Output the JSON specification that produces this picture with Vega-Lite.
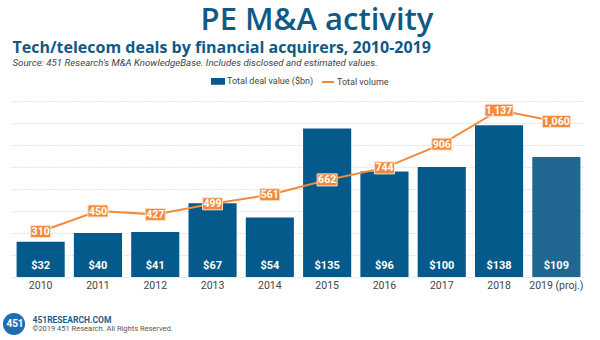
{
  "$schema": "https://vega.github.io/schema/vega-lite/v6.json",
  "width": 573,
  "height": 176,
  "autosize": {"type": "none"},
  "padding": {"left": 12, "top": 101, "right": 15, "bottom": 63},
  "background": "white",
  "config": {
    "view": {"stroke": null},
    "font": "Roboto",
    "axis": {"labelFont": "Roboto", "titleFont": "Roboto"},
    "legend": {"labelFont": "Roboto", "titleFont": "Roboto"}
  },
  "data": {
    "values": [
      {"year": "2010", "value": 32, "volume": 310},
      {"year": "2011", "value": 40, "volume": 450},
      {"year": "2012", "value": 41, "volume": 427},
      {"year": "2013", "value": 67, "volume": 499},
      {"year": "2014", "value": 54, "volume": 561},
      {"year": "2015", "value": 135, "volume": 662},
      {"year": "2016", "value": 96, "volume": 744},
      {"year": "2017", "value": 100, "volume": 906},
      {"year": "2018", "value": 138, "volume": 1137},
      {"year": "2019 (proj.)", "value": 109, "volume": 1060}
    ]
  },
  "layer": [
    {
      "layer": [
        {
          "mark": {"type": "bar"},
          "encoding": {
            "x": {
              "field": "year", "type": "nominal", "sort": null,
              "scale": {"paddingInner": 0.16, "paddingOuter": 0.08},
              "axis": {
                "orient": "bottom", "labelAngle": 0, "labelFontSize": 10.5, "labelColor": "#444444",
                "labelPadding": 3, "ticks": false, "domain": false, "grid": false,
                "title": "451RESEARCH.COM", "titleX": 20, "titleY": 45, "titleAlign": "left",
                "titleBaseline": "alphabetic", "titleFontSize": 8.5, "titleFontWeight": "bold", "titleColor": "#1c5d8e"
              }
            },
            "y": {
              "field": "value", "type": "quantitative", "scale": {"domain": [0, 160]},
              "axis": {
                "orient": "left", "labels": false, "labelOverlap": false, "labelBound": false, "ticks": false, "domain": false,
                "grid": true, "gridColor": "#c8c8c8", "gridDash": [1, 2], "gridWidth": 1,
                "values": [0, 20, 40, 60, 80, 100, 120, 140, 160], "tickCount": 20,
                "title": "Tech/telecom deals by financial acquirers, 2010-2019",
                "titleX": 0, "titleY": -49, "titleAngle": 0, "titleAlign": "left", "titleBaseline": "alphabetic",
                "titleFont": "Open Sans", "titleFontSize": 16, "titleFontWeight": "bold", "titleColor": "#0f5a85"
              }
            },
            "color": {
              "datum": "Total deal value ($bn)",
              "condition": {"test": "datum.year === '2019 (proj.)'", "value": "#1f6690"},
              "scale": {"domain": ["Total deal value ($bn)", "Total volume"], "range": ["#045a8a", "#f28a3e"]},
              "legend": {
                "orient": "none", "legendX": 199, "legendY": -27, "direction": "horizontal", "title": null,
                "labelFontSize": 9, "labelColor": "#444444", "symbolSize": 144, "labelOffset": 2, "columnPadding": 4,
                "encode": {
                  "symbols": {
                    "update": {
                      "shape": {"signal": "datum.value === 'Total volume' ? 'stroke' : 'M-1,-0.4H1V0.4H-1Z'"},
                      "fill": {"signal": "datum.value === 'Total volume' ? 'transparent' : '#045a8a'"},
                      "stroke": {"signal": "datum.value === 'Total volume' ? '#f28a3e' : 'transparent'"},
                      "strokeWidth": {"value": 2},
                      "opacity": {"value": 1}
                    }
                  }
                }
              }
            }
          }
        },
        {
          "mark": {"type": "text", "color": "white", "fontWeight": "bold", "fontSize": 11, "baseline": "alphabetic", "dy": -8},
          "encoding": {
            "x": {
              "field": "year", "type": "nominal", "sort": null,
              "axis": {
                "orient": "top", "labels": false, "ticks": false, "domain": false, "grid": false,
                "title": "©2019 451 Research. All Rights Reserved.", "titleX": 20, "titleY": 229, "titleAlign": "left",
                "titleBaseline": "alphabetic", "titleFontSize": 7.5, "titleFontWeight": "normal", "titleColor": "#555555"
              }
            },
            "y": {
              "datum": 0, "type": "quantitative",
              "axis": {
                "orient": "left", "labels": false, "labelOverlap": false, "labelBound": false, "ticks": false, "domain": false,
                "grid": true, "gridColor": "#c8c8c8", "gridDash": [1, 2], "gridWidth": 1,
                "values": [0, 20, 40, 60, 80, 100, 120, 140, 160], "tickCount": 20,
                "title": "Tech/telecom deals by financial acquirers, 2010-2019",
                "titleX": 0, "titleY": -49, "titleAngle": 0, "titleAlign": "left", "titleBaseline": "alphabetic",
                "titleFont": "Open Sans", "titleFontSize": 16, "titleFontWeight": "bold", "titleColor": "#0f5a85"
              }
            },
            "text": {"field": "value", "type": "quantitative", "format": "$.0f"}
          }
        }
      ],
      "resolve": {"axis": {"x": "independent"}}
    },
    {
      "encoding": {
        "x": {
          "field": "year", "type": "nominal", "sort": null,
          "axis": {
            "orient": "top", "labels": false, "ticks": false, "domain": false, "grid": false,
            "title": "PE M&A activity", "titleX": 304.5, "titleY": -72, "titleAlign": "center",
            "titleBaseline": "alphabetic", "titleFont": "Open Sans", "titleFontSize": 31, "titleFontWeight": 600, "titleColor": "#0f5a85"
          }
        },
        "y": {
          "field": "volume", "type": "quantitative", "scale": {"domain": [0, 1200]},
          "axis": {
            "orient": "right", "labels": false, "ticks": false, "domain": false, "grid": false,
            "title": "Source: 451 Research's M&A KnowledgeBase. Includes disclosed and estimated values.",
            "titleX": -573, "titleY": -36, "titleAngle": 0, "titleAlign": "left", "titleBaseline": "alphabetic",
            "titleFontSize": 9.7, "titleFontWeight": "normal", "titleFontStyle": "italic", "titleColor": "#444444"
          }
        }
      },
      "layer": [
        {
          "mark": {"type": "line", "strokeWidth": 2},
          "encoding": {"color": {"datum": "Total volume"}}
        },
        {
          "mark": {"type": "point", "filled": true, "fill": "#f28a3e", "stroke": "#fbe0cc", "strokeWidth": 1, "opacity": 1, "size": 400},
          "encoding": {
            "shape": {
              "condition": {"test": "datum.volume >= 1000", "value": "M-1,-0.43H1V0.43H-1Z"},
              "value": "M-1,-0.6H1V0.6H-1Z"
            },
            "size": {
              "condition": {"test": "datum.volume >= 1000", "value": 784},
              "value": 400
            }
          }
        },
        {
          "mark": {"type": "text", "color": "white", "fontWeight": "bold", "fontSize": 10.5, "baseline": "middle", "dy": 0.5},
          "encoding": {"text": {"field": "volume", "type": "quantitative", "format": ","}}
        },
        {
          "mark": {"type": "point", "filled": true, "color": "#1f6db3", "opacity": 0},
          "encoding": {
            "shape": {
              "datum": "451",
              "scale": {"range": ["circle"]},
              "legend": {
                "orient": "none", "legendX": -10, "legendY": 211, "title": null,
                "symbolSize": 490, "symbolFillColor": "#1f6db3", "symbolStrokeColor": "#5d9bd0", "symbolStrokeWidth": 1.5,
                "symbolOpacity": 1,
                "labelAlign": "center", "labelOffset": -11, "labelColor": "white",
                "labelFontSize": 10, "labelFontWeight": "bold", "labelBaseline": "middle",
                "encode": {
                  "symbols": {
                    "update": {
                      "fill": {"value": "#1f6db3"},
                      "fillOpacity": {"value": 1},
                      "stroke": {"value": "#5d9bd0"},
                      "strokeWidth": {"value": 1.5},
                      "opacity": {"value": 1},
                      "shape": {"value": "circle"}
                    }
                  }
                }
              }
            }
          }
        }
      ]
    }
  ],
  "resolve": {"scale": {"y": "independent"}, "axis": {"x": "independent"}}
}
